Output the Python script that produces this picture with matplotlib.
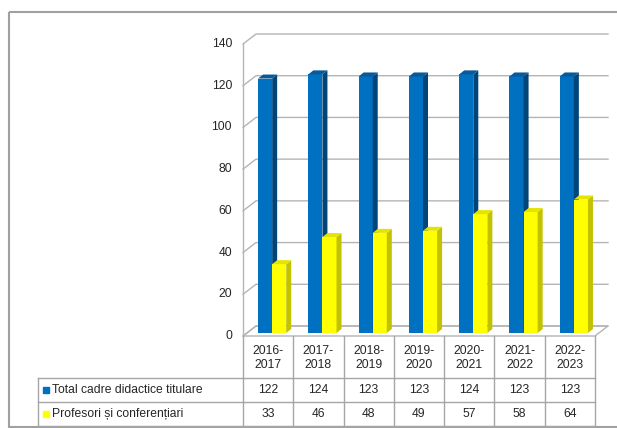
import matplotlib
matplotlib.use('Agg')
import matplotlib.pyplot as plt
from matplotlib.patches import Polygon, Rectangle
from matplotlib.lines import Line2D
from matplotlib import transforms

# date
ani = ['2016-\n2017', '2017-\n2018', '2018-\n2019', '2019-\n2020',
       '2020-\n2021', '2021-\n2022', '2022-\n2023']
total_cadre = [122, 124, 123, 123, 124, 123, 123]
profesori = [33, 46, 48, 49, 57, 58, 64]
serii = ['Total cadre didactice titulare', 'Profesori și conferențiari']
y_ticks = [0, 20, 40, 60, 80, 100, 120, 140]

plt.rcParams['font.family'] = ['Liberation Sans', 'DejaVu Sans']
txt_color = '#262626'
grid_color = '#b4b4b4'
colors = [('#0070c0', '#00457a', '#0a5a9a'), ('#ffff00', '#c2c200', '#e4e400')]

W, H = 617, 428
fig = plt.figure(figsize=(W / 100, H / 100), dpi=100)
# transform for layout in pixel units (origin top-left)
pxT = transforms.Affine2D().scale(1 / W, -1 / H).translate(0, 1) + fig.transFigure

# planul frontal al graficului 3D
X0, X1, Y0, Y1 = 243, 595, 336, 44
n = len(ani)
ax = fig.add_axes([X0 / W, 1 - Y0 / H, (X1 - X0) / W, (Y0 - Y1) / H])
ax.set_xlim(-0.5, n - 0.5)
ax.set_ylim(0, 140)
ax.axis('off')

ux = (X1 - X0) / n
uy = (Y0 - Y1) / 140
bdx, bdy = 13 / ux, 10 / uy      # adancimea peretelui din spate
fdx, fdy = 4 / ux, 3 / uy        # pozitia fetei barelor
ddx, ddy = 5 / ux, 4 / uy        # adancimea barelor

# podea
ax.add_patch(Polygon([(-0.5, 0), (n - 0.5, 0), (n - 0.5 + bdx, bdy), (-0.5 + bdx, bdy)],
                     closed=True, facecolor='white', edgecolor=grid_color, lw=1,
                     clip_on=False, zorder=1))
# linii de grila (perete lateral + perete spate)
for t in y_ticks:
    ax.plot([-0.5, -0.5 + bdx, n - 0.5 + bdx], [t, t + bdy, t + bdy],
            color=grid_color, lw=1, clip_on=False, zorder=1)
    ax.text(-0.5 - 11 / ux, t, str(t), ha='right', va='center',
            fontsize=8.7, color=txt_color)
ax.plot([-0.5, -0.5], [0, 140], color=grid_color, lw=1, clip_on=False, zorder=1)

# bare 3D
bw = 0.28
for s, vals in enumerate([total_cadre, profesori]):
    front, side, top = colors[s]
    lefts = [i - bw + s * bw + fdx for i in range(n)]
    bars = ax.bar(lefts, vals, width=bw, bottom=fdy, align='edge', color=front,
                  zorder=3 + s, clip_on=False)
    for r in bars:
        x0, x1 = r.get_x(), r.get_x() + r.get_width()
        yb, yt = r.get_y(), r.get_y() + r.get_height()
        ax.add_patch(Polygon([(x1, yb), (x1 + ddx, yb + ddy), (x1 + ddx, yt + ddy), (x1, yt)],
                             closed=True, color=side, lw=0, zorder=3 + s, clip_on=False))
        ax.add_patch(Polygon([(x0, yt), (x1, yt), (x1 + ddx, yt + ddy), (x0 + ddx, yt + ddy)],
                             closed=True, color=top, lw=0, zorder=3 + s, clip_on=False))

# tabel de date
colT = transforms.blended_transform_factory(ax.transData, pxT)
tab_left, r0, r1, r2, r3 = 38, 336, 378, 402, 426
line_kw = dict(color='#a6a6a6', lw=1)
for y in [r1, r2, r3]:
    fig.add_artist(Line2D([tab_left, X1], [y, y], transform=pxT, **line_kw))
fig.add_artist(Line2D([tab_left, tab_left], [r1, r3], transform=pxT, **line_kw))
for k in range(n + 1):
    fig.add_artist(Line2D([k - 0.5, k - 0.5], [r0, r3], transform=colT, **line_kw))

for i, lab in enumerate(ani):
    fig.text(i, (r0 + r1) / 2 + 1, lab, transform=colT, ha='center', va='center',
             fontsize=8.7, color=txt_color, linespacing=1.15)
for s, (vals, row_c) in enumerate(zip([total_cadre, profesori], [(r1 + r2) / 2, (r2 + r3) / 2])):
    for i, v in enumerate(vals):
        fig.text(i, row_c, str(v), transform=colT, ha='center', va='center',
                 fontsize=8.7, color=txt_color)
    fig.add_artist(Rectangle((43, row_c - 3), 6, 6, transform=pxT, color=colors[s][0]))
    fig.text(52, row_c, serii[s], transform=pxT, ha='left', va='center',
             fontsize=8.7, color=txt_color)

# chenar exterior
fig.add_artist(Rectangle((9, 12), 700, 415, transform=pxT, fill=False,
                         edgecolor='#a0a0a0', lw=1.5))

fig.savefig('out.png', dpi=100)
plt.close(fig)
